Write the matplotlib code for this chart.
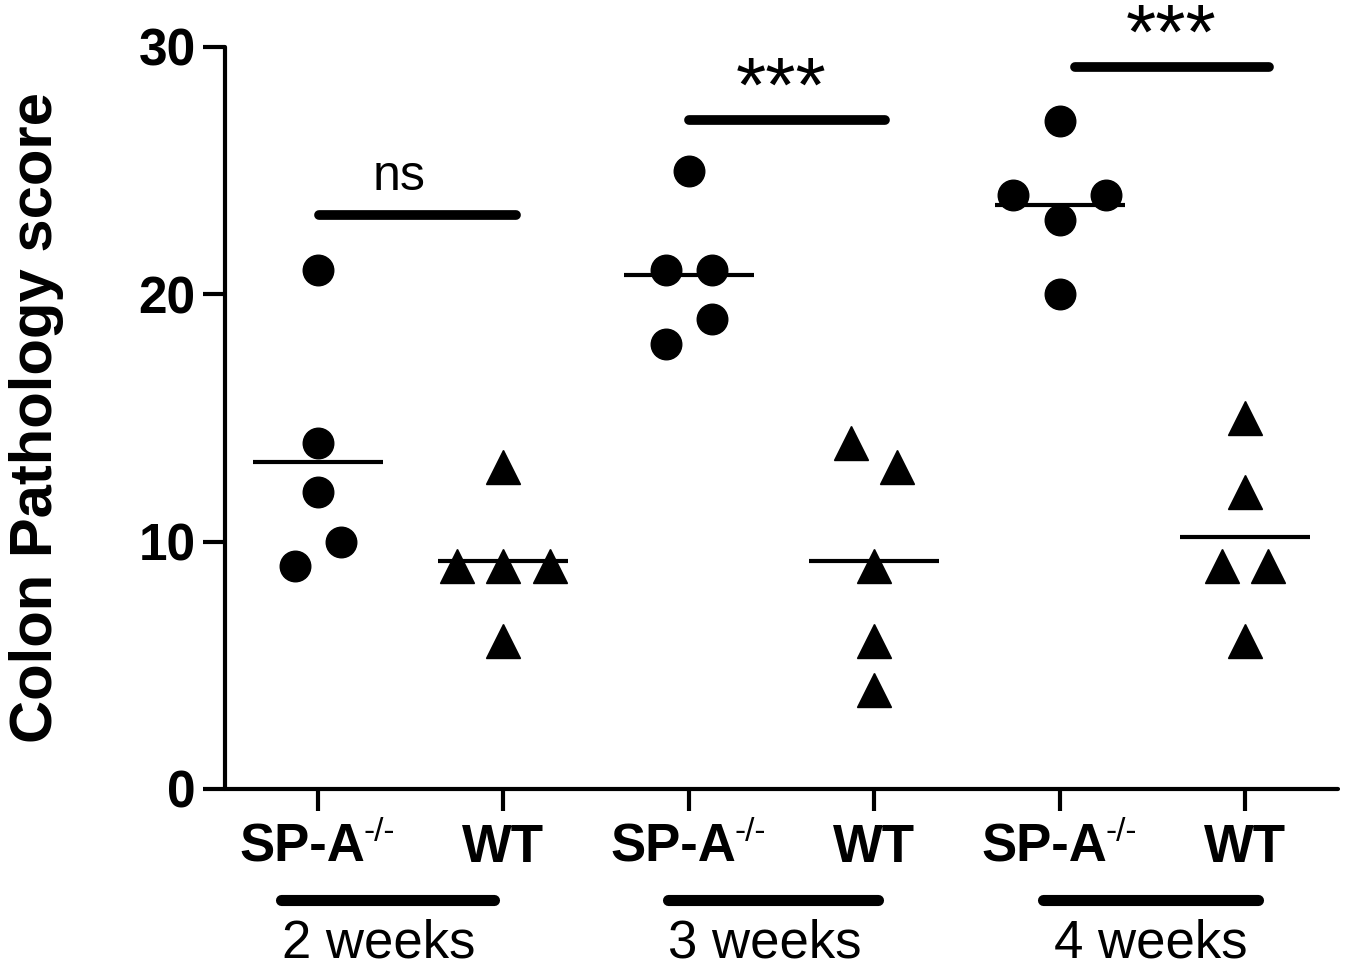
import numpy as np
import matplotlib
matplotlib.use("Agg")
import matplotlib.pyplot as plt

plt.rcParams['font.family'] = ['Liberation Sans', 'DejaVu Sans']

# Data: colon pathology score per mouse
groups = ['SP-A', 'WT', 'SP-A', 'WT', 'SP-A', 'WT']
weeks = ['2 weeks', '3 weeks', '4 weeks']
spa_2wk = [21, 14, 12, 10, 9]
wt_2wk = [13, 9, 9, 9, 6]
spa_3wk = [25, 21, 21, 19, 18]
wt_3wk = [14, 13, 9, 6, 4]
spa_4wk = [27, 24, 24, 23, 20]
wt_4wk = [15, 12, 9, 9, 6]
sig_labels = ['ns', '***', '***']

series = [spa_2wk, wt_2wk, spa_3wk, wt_3wk, spa_4wk, wt_4wk]

# horizontal spread of overlapping points (layout only)
offsets = [
    [0, 0, 0, 0.125, -0.125],
    [0, -0.25, 0, 0.25, 0],
    [0, -0.125, 0.125, 0.125, -0.125],
    [-0.125, 0.125, 0, 0, 0],
    [0, -0.25, 0.25, 0, 0],
    [0, 0, -0.125, 0.125, 0],
]

fig = plt.figure(figsize=(13.47, 9.69), dpi=100)
ax = fig.add_axes([0.167, 0.1858, 0.8263, 0.7657])

for i, vals in enumerate(series):
    xs = i + np.array(offsets[i])
    marker = 'o' if i % 2 == 0 else '^'
    size = 22 if marker == 'o' else 24
    ax.plot(xs, vals, linestyle='none', marker=marker, color='black',
            markersize=size, clip_on=False, zorder=3)
    m = np.mean(vals)
    ax.plot([i - 0.35, i + 0.35], [m, m], color='black', lw=3,
            solid_capstyle='butt', zorder=2)

# significance bars
bars = [(0.005, 1.07, 23.2, 0.44), (2.0, 3.06, 27.05, 2.5), (4.08, 5.13, 29.2, 4.6)]
for (x0, x1, y, xt), lab in zip(bars, sig_labels):
    ax.plot([x0, x1], [y, y], color='black', lw=7, solid_capstyle='round', clip_on=False)
    if lab == 'ns':
        ax.text(xt, y + 1.0, lab, ha='center', va='baseline', fontsize=36, clip_on=False)
    else:
        ax.text(xt, y + 0.35, lab, ha='center', va='baseline', fontsize=56,
                clip_on=False)

# axes styling
ax.set_xlim(-0.5, 5.5)
ax.set_ylim(0, 30)
ax.set_yticks([0, 10, 20, 30])
ax.set_xticks(range(6))
ax.set_xticklabels([])
for s in ['top', 'right']:
    ax.spines[s].set_visible(False)
for s in ['left', 'bottom']:
    ax.spines[s].set_linewidth(3)
    ax.spines[s].set_capstyle('round')
ax.tick_params(axis='both', length=16, width=3, direction='out')
ax.tick_params(axis='y', labelsize=37, pad=5)
for t in ax.get_yticklabels():
    t.set_fontweight('bold')

ax.set_ylabel('Colon Pathology score', fontsize=43, fontweight='bold', labelpad=54)

# category labels
for i, g in enumerate(groups):
    if g == 'WT':
        ax.text(i, -2.95, 'WT', ha='center', va='baseline', fontsize=38,
                fontweight='bold', clip_on=False)
    else:
        t = ax.text(i - 0.08, -2.95, 'SP-A', ha='center', va='baseline', fontsize=38,
                    fontweight='bold', clip_on=False)
        ax.annotate('-/-', xy=(1, 1), xycoords=t, xytext=(-2, 4), textcoords='offset points',
                    ha='left', va='top', fontsize=24, annotation_clip=False)

# week group lines and labels
wk_lines = [(-0.2, 0.95, 0.33), (1.89, 3.02, 2.41), (3.91, 5.07, 4.49)]
for (x0, x1, xt), w in zip(wk_lines, weeks):
    ax.plot([x0, x1], [-4.49, -4.49], color='black', lw=8, solid_capstyle='round',
            clip_on=False)
    ax.text(xt, -6.83, w, ha='center', va='baseline', fontsize=38, clip_on=False)

fig.savefig('out.png', dpi=100)
